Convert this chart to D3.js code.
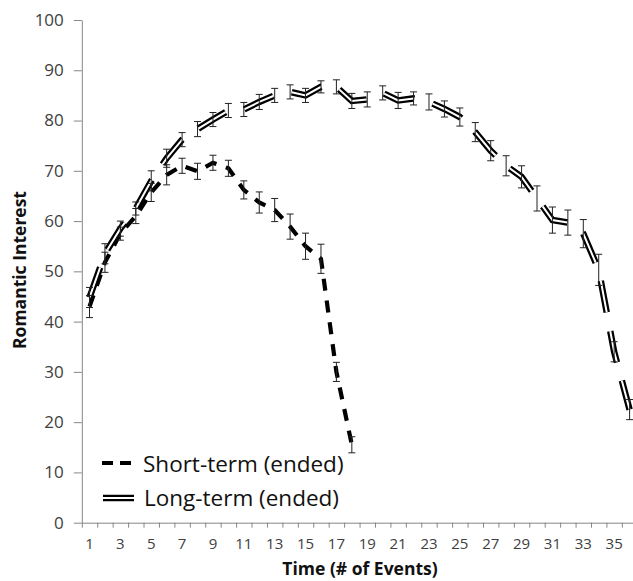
<!DOCTYPE html>
<html>
<head>
<meta charset="utf-8">
<script src="https://cdn.jsdelivr.net/npm/d3@7"></script>
<style>
  body { margin: 0; background: #fff; }
  svg { display: block; font-family: "Open Sans", sans-serif; }
</style>
</head>
<body>
<svg id="chart" width="633" height="581"></svg>
<script>
// values
var categories = [1,2,3,4,5,6,7,8,9,10,11,12,13,14,15,16,17,18,19,20,21,22,23,24,25,26,27,28,29,30,31,32,33,34,35,36];
var xTickLabels = [1,3,5,7,9,11,13,15,17,19,21,23,25,27,29,31,33,35];
var yTicks = [0,10,20,30,40,50,60,70,80,90,100];

var shortTerm = [43, 51.8, 57.5, 61, 65.7, 69.2, 71, 69.9, 71.6, 70.5, 66.2, 63.7, 62.2, 58.9, 55, 52.5, 30, 15.5];
var shortErr  = [2.2, 2, 1.3, 1.5, 1.8, 2, 1.5, 1.6, 1.5, 1.6, 1.8, 2.1, 2.3, 2.5, 2.6, 2.9, 1.9, 1.6];

var longTerm = [44.8, 53.5, 58.5, 62.5, 68, 72.5, 76.2, 78.3, 80.2, 82, 82.2, 83.7, 85, 85.7, 85, 86.7, 86.7, 83.9,
                84.2, 85.5, 84, 84.4, 83.7, 82.3, 80.7, 77.7, 74, 71, 68.8, 64.5, 60.2, 59.7, 57.5, 50.3, 34, 22.5];
var longErr  = [2, 2, 1.5, 1.3, 2, 1.8, 1.4, 1.5, 1.4, 1.4, 1.4, 1.5, 1.4, 1.4, 1.4, 1.2, 1.4, 1.5,
                1.5, 1.4, 1.6, 1.3, 1.6, 1.6, 1.8, 1.9, 2, 2, 2.2, 2.5, 2.6, 2.5, 2.8, 3.1, 2, 2];

var svg = d3.select("#chart");
var axisCol = "#868686";

var x = d3.scaleBand().domain(categories).range([81.8, 637.3]).padding(0);
var xEdge = d3.scaleLinear().domain([0.5, 36.5]).range([81.8, 637.3]);
var y = d3.scaleLinear().domain([0, 100]).range([522.7, 20]);
function cx(c) { return x(c) + x.bandwidth() / 2; }

// y axis
var gy = svg.append("g").attr("transform", "translate(81.8,0)")
    .call(d3.axisLeft(y).tickValues(yTicks).tickSize(8).tickSizeOuter(0).tickPadding(10));
gy.selectAll("text").attr("fill", "#404040").style("font-size", "17px").style("font-family", "Open Sans");

// x axis: marks at the band edges, labels on odd categories
var edges = categories.map(function(c) { return c - 0.5; }).concat([36.5]);
var gx = svg.append("g").attr("transform", "translate(0,522.7)")
    .call(d3.axisBottom(xEdge).tickValues(edges).tickSize(5).tickSizeOuter(0).tickFormat(""));
var gxl = svg.append("g").attr("transform", "translate(0,522.7)")
    .call(d3.axisBottom(x).tickValues(xTickLabels).tickSize(0).tickPadding(16));
gxl.select(".domain").remove();
gxl.selectAll("text").attr("fill", "#404040").style("font-size", "15px").style("font-family", "Open Sans");
svg.selectAll(".domain, .tick line").attr("stroke", axisCol);

// axis titles
svg.append("text").attr("x", 360).attr("y", 575).attr("text-anchor", "middle")
  .style("font-weight", "bold").style("font-size", "17.5px").attr("fill", "#111")
  .text("Time (# of Events)");
svg.append("text").attr("transform", "translate(26,270) rotate(-90)").attr("text-anchor", "middle")
  .style("font-weight", "bold").style("font-size", "17.5px").attr("fill", "#111")
  .text("Romantic Interest");

var line = d3.line().x(function(d) { return cx(d.c); }).y(function(d) { return y(d.v); });
var shortData = shortTerm.map(function(v, i) { return {c: categories[i], v: v, e: shortErr[i]}; });
var longData = longTerm.map(function(v, i) { return {c: categories[i], v: v, e: longErr[i]}; });

// short-term: thick dashed line
svg.append("path").datum(shortData).attr("d", line)
  .attr("fill", "none").attr("stroke", "#000").attr("stroke-width", 4.2)
  .attr("stroke-dasharray", "12 10");

// long-term: double (compound) long-dash line
svg.append("path").datum(longData).attr("d", line)
  .attr("fill", "none").attr("stroke", "#000").attr("stroke-width", 6.5)
  .attr("stroke-dasharray", "32 19");
svg.append("path").datum(longData).attr("d", line)
  .attr("fill", "none").attr("stroke", "#fff").attr("stroke-width", 2)
  .attr("stroke-dasharray", "32 19");

// error bars
function errBars(data) {
  var g = svg.append("g").attr("stroke", "#222").attr("stroke-width", 1);
  data.forEach(function(d) {
    var X = cx(d.c), y1 = y(d.v + d.e), y2 = y(d.v - d.e);
    g.append("line").attr("x1", X).attr("x2", X).attr("y1", y1).attr("y2", y2);
    g.append("line").attr("x1", X - 3.5).attr("x2", X + 3.5).attr("y1", y1).attr("y2", y1);
    g.append("line").attr("x1", X - 3.5).attr("x2", X + 3.5).attr("y1", y2).attr("y2", y2);
  });
}
errBars(shortData);
errBars(longData);

// legend
svg.append("line").attr("x1", 102).attr("x2", 132).attr("y1", 463).attr("y2", 463)
  .attr("stroke", "#000").attr("stroke-width", 4).attr("stroke-dasharray", "11 7");
svg.append("line").attr("x1", 103).attr("x2", 134).attr("y1", 498).attr("y2", 498)
  .attr("stroke", "#000").attr("stroke-width", 6.5);
svg.append("line").attr("x1", 103).attr("x2", 134).attr("y1", 498).attr("y2", 498)
  .attr("stroke", "#fff").attr("stroke-width", 2);
svg.append("text").attr("x", 143).attr("y", 471.5).style("font-size", "22.5px").attr("fill", "#111")
  .text("Short-term (ended)");
svg.append("text").attr("x", 144).attr("y", 505.5).style("font-size", "22.5px").attr("fill", "#111")
  .text("Long-term (ended)");
</script>
</body>
</html>
